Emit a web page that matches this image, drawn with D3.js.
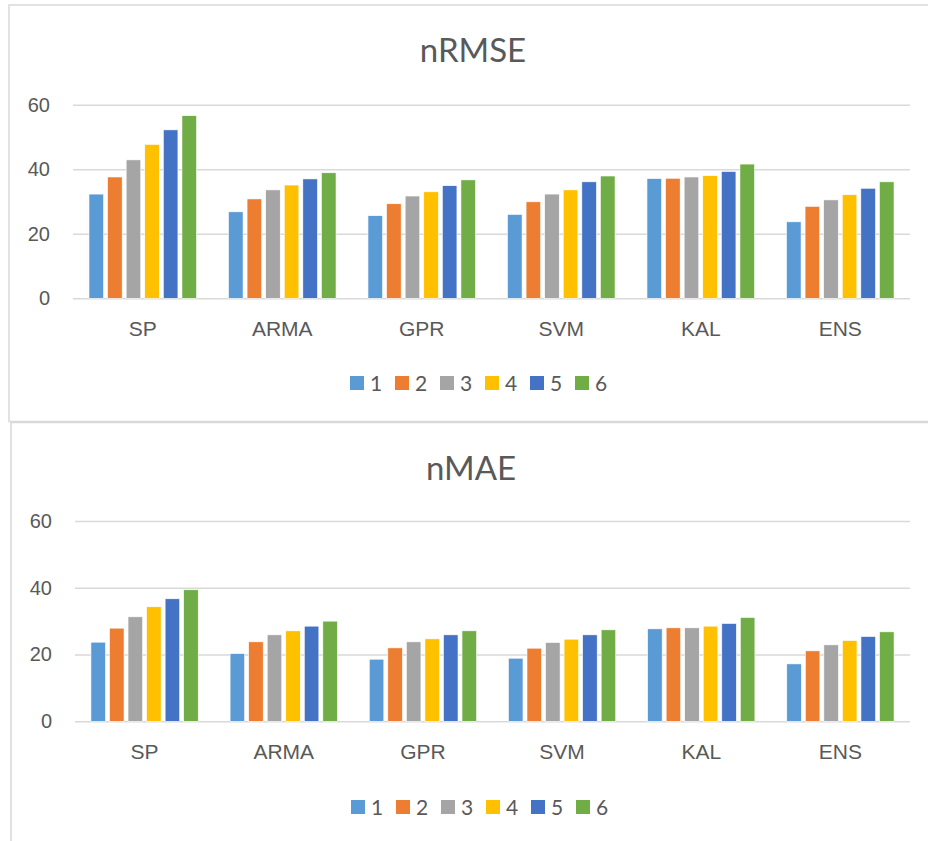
<!DOCTYPE html>
<html>
<head>
<meta charset="utf-8">
<script src="https://cdn.jsdelivr.net/npm/d3@7"></script>
<style>
  html, body { margin: 0; padding: 0; background: #fff; }
  svg { display: block; font-family: Lato, "Open Sans", sans-serif; }
</style>
</head>
<body>
<svg id="chart" width="928" height="841"></svg>
<script>
// ---------- DATA ----------
const categories = ["SP", "ARMA", "GPR", "SVM", "KAL", "ENS"];
const seriesNames = ["1", "2", "3", "4", "5", "6"];
const seriesColors = ["#5B9BD5", "#ED7D31", "#A5A5A5", "#FFC000", "#4472C4", "#70AD47"];
const yTicks = [0, 20, 40, 60];

// nRMSE, one array per series (values per category)
const nrmse1 = [32.3, 26.8, 25.6, 26.0, 37.1, 23.7];
const nrmse2 = [37.6, 30.8, 29.3, 29.9, 37.2, 28.5];
const nrmse3 = [42.9, 33.6, 31.7, 32.3, 37.6, 30.5];
const nrmse4 = [47.7, 35.1, 33.0, 33.6, 38.0, 32.1];
const nrmse5 = [52.2, 37.0, 34.9, 36.1, 39.3, 34.1];
const nrmse6 = [56.6, 38.9, 36.7, 37.9, 41.6, 36.1];

// nMAE, one array per series
const nmae1 = [23.7, 20.3, 18.6, 18.9, 27.7, 17.2];
const nmae2 = [27.9, 23.8, 22.0, 21.9, 28.0, 21.1];
const nmae3 = [31.3, 25.9, 23.8, 23.6, 28.0, 22.9];
const nmae4 = [34.3, 27.1, 24.7, 24.6, 28.5, 24.2];
const nmae5 = [36.7, 28.5, 25.9, 25.9, 29.3, 25.4];
const nmae6 = [39.4, 30.0, 27.1, 27.4, 31.1, 26.8];

// ---------- DRAW ----------
const svg = d3.select("#chart");
const textColor = "#595959";
const gridColor = "#D9D9D9";

function drawPanel(cfg) {
  const g = svg.append("g");
  // frame
  g.append("rect")
    .attr("x", cfg.frame.x).attr("y", cfg.frame.y)
    .attr("width", cfg.frame.w).attr("height", cfg.frame.h)
    .attr("fill", "#fff").attr("stroke", gridColor).attr("stroke-width", 1.5);

  const x0 = d3.scaleBand().domain(categories)
    .range([cfg.left, cfg.right]).paddingInner(0.229).paddingOuter(0.1145);
  const x1 = d3.scaleBand().domain(seriesNames)
    .range([0, x0.bandwidth()]).paddingInner(0.215).paddingOuter(0);
  const y = d3.scaleLinear().domain([0, 60]).range([cfg.bottom, cfg.top]);

  // gridlines + y labels
  const yAxis = g.append("g")
    .attr("transform", `translate(${cfg.left},0)`)
    .call(d3.axisLeft(y).tickValues(yTicks).tickSizeInner(-(cfg.right - cfg.left)).tickSizeOuter(0).tickPadding(23));
  yAxis.select(".domain").remove();
  yAxis.selectAll(".tick line").attr("stroke", gridColor).attr("stroke-width", 1.5);
  yAxis.selectAll(".tick text").attr("fill", textColor).attr("font-size", 20);

  // bars
  const rows = categories.map((c, i) => ({ cat: c, vals: cfg.series.map(s => s[i]) }));
  g.append("g").selectAll("g").data(rows).join("g")
    .attr("transform", d => `translate(${x0(d.cat)},0)`)
    .selectAll("rect").data(d => d.vals.map((v, j) => ({ name: seriesNames[j], v, color: seriesColors[j] })))
    .join("rect")
    .attr("x", d => x1(d.name))
    .attr("y", d => y(d.v))
    .attr("width", x1.bandwidth())
    .attr("height", d => y(0) - y(d.v))
    .attr("fill", d => d.color)
    .attr("stroke", "#fff").attr("stroke-width", 0.6);

  // category labels
  const xAxis = g.append("g")
    .attr("transform", `translate(0,${cfg.bottom})`)
    .call(d3.axisBottom(x0).tickSize(0).tickPadding(23));
  xAxis.select(".domain").remove();
  xAxis.selectAll(".tick text").attr("fill", textColor).attr("font-size", 21);

  // title
  g.append("text")
    .attr("x", cfg.titleX).attr("y", cfg.titleY)
    .attr("text-anchor", "middle").attr("fill", textColor)
    .attr("font-size", 33).text(cfg.title);

  // legend
  const leg = g.append("g").attr("transform", `translate(${cfg.legendX},${cfg.legendY})`);
  const items = leg.selectAll("g").data(seriesNames).join("g")
    .attr("transform", (d, i) => `translate(${i * 45},0)`);
  items.append("rect").attr("x", 0).attr("y", -7).attr("width", 14).attr("height", 14)
    .attr("fill", (d, i) => seriesColors[i]);
  items.append("text").attr("x", 20).attr("y", 0).attr("dy", "0.36em")
    .attr("fill", textColor).attr("font-size", 21).text(d => d);
}

drawPanel({
  frame: { x: 9, y: 5, w: 930, h: 416.5 },
  left: 73, right: 910, top: 104.7, bottom: 298.3,
  title: "nRMSE", titleX: 473, titleY: 62,
  legendX: 350, legendY: 383,
  series: [nrmse1, nrmse2, nrmse3, nrmse4, nrmse5, nrmse6]
});

drawPanel({
  frame: { x: 11, y: 422.5, w: 930, h: 430 },
  left: 75, right: 910, top: 521, bottom: 721.3,
  title: "nMAE", titleX: 471, titleY: 480,
  legendX: 351, legendY: 807,
  series: [nmae1, nmae2, nmae3, nmae4, nmae5, nmae6]
});
</script>
</body>
</html>
